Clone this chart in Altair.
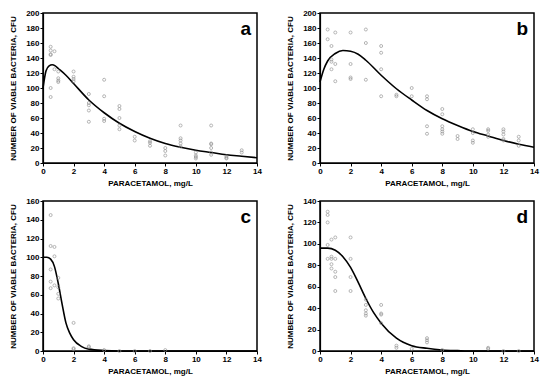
import altair as alt
import pandas as pd

# ---- panel a ----
a_pt_x = [0.5,0.5,0.5,0.5,0.5,0.5,0.75,0.75,1,1,1,1,2,2,2,2,3,3,3,3,3,4,4,4,4,
          5,5,5,5,5,6,6,7,7,7,8,8,8,9,9,9,9,9,10,10,10,10,11,11,11,11,11,11,12,12,12,13,13]
a_pt_y = [155,150,145,144,100,88,149,125,122,113,110,108,122,115,112,109,92,80,77,70,55,111,89,59,56,
          76,72,60,50,45,35,30,29,27,23,20,16,10,50,33,30,26,22,14,10,8,6,50,26,25,20,14,11,9,7,6,17,14]
a_cx = [0,0.2,0.4,0.6,0.8,1,1.5,2,3,4,5,6,7,8,9,10,11,12,13,14]
a_cy = [100,123,129.5,131,129.5,126,117,106,84,67,53,42,33,26,21,17,14,11,9,7]

# ---- panel b ----
b_pt_x = [0.5,0.5,0.75,0.75,0.75,0.75,1,1,1,2,2,2,2,3,3,3,4,4,4,4,5,5,6,6,
          7,7,7,7,8,8,8,8,8,8,9,9,10,10,10,10,11,11,11,11,12,12,12,12,12,13,13,13]
b_pt_y = [178,165,156,138,135,125,174,132,109,174,132,114,112,178,160,111,156,147,125,89,91,89,100,89,
          89,85,49,39,72,65,49,45,42,39,36,32,45,40,30,27,45,43,38,35,45,42,38,32,30,35,30,23]
b_cx = [0,0.25,0.5,1,1.5,2,2.5,3,4,5,6,7,8,9,10,11,12,13,14]
b_cy = [108,125,136,146,150,149,145,137,117,99,84,70,59,50,42,36,30,25,21]

# ---- panel c ----
c_pt_x = [0.5,0.5,0.5,0.5,0.5,0.75,0.75,0.75,1,1,1,1,2,2,2,3,3,4,5,6,7,8]
c_pt_y = [145,112,87,74,67,111,101,70,78,68,61,56,30,3,2,5,4,1,0,0,0,1]
c_cx = [0,0.25,0.5,0.75,1,1.25,1.5,1.75,2,2.5,3,4,5,8,14]
c_cy = [100,100,98,90,72,50,30,19,12,5,2,0.5,0,0,0]

# ---- panel d ----
d_pt_x = [0.5,0.5,0.5,0.5,0.5,0.75,0.75,0.75,0.75,0.75,1,1,1,1,1,2,2,2,2,
          3,3,3,3,3,4,4,4,4,5,5,6,7,7,7,8,11,11,12,13]
d_pt_y = [130,127,120,99,86,104,88,86,81,77,106,86,74,69,56,106,86,69,56,
          48,43,38,35,33,43,35,34,26,5,3,2,12,10,8,1,3,2,0,0]
d_cx = [0,0.5,1,1.5,2,2.5,3,3.5,4,5,6,7,8,9,10,14]
d_cy = [96,96,94,88,78,64,49,36,26,12,5,2.5,1,0.4,0,0]

letters = ["a", "b", "c", "d"]
ymax = [200, 200, 160, 140]

FONT = "Liberation Sans"
W, H = 214, 150


def panel(px, py, cx, cy, letter, ym):
    pts = pd.DataFrame({"x": px, "y": py})
    cur = pd.DataFrame({"x": cx, "y": cy})
    xs = alt.Scale(domain=[0, 14], nice=False, zero=False)
    ys = alt.Scale(domain=[0, ym], nice=False)
    xax = alt.Axis(tickCount=7, title="PARACETAMOL, mg/L", grid=False,
                   titlePadding=4, labelOverlap=False, labelFlush=False, labelSeparation=0)
    yax = alt.Axis(tickCount=ym // 20, title="NUMBER OF VIABLE BACTERIA, CFU",
                   grid=False, titlePadding=8, labelOverlap=False, labelFlush=False, labelSeparation=0)
    l = alt.Chart(cur).mark_line(color="black", strokeWidth=1.6, interpolate="monotone").encode(
        x=alt.X("x:Q", scale=xs, axis=xax), y=alt.Y("y:Q", scale=ys, axis=yax)
    )
    p = alt.Chart(pts).mark_point(shape="circle", filled=False, color="#8a8a8a",
                                  size=9, strokeWidth=0.9).encode(
        x=alt.X("x:Q", scale=xs, axis=xax),
        y=alt.Y("y:Q", scale=ys, axis=yax),
    )
    t = alt.Chart(pd.DataFrame({"t": [letter]})).mark_text(
        font=FONT, fontWeight="bold", fontSize=19, align="right", baseline="alphabetic"
    ).encode(text="t:N", x=alt.value(208), y=alt.value(22))
    return alt.layer(l, p, t).properties(width=W, height=H)


pa = panel(a_pt_x, a_pt_y, a_cx, a_cy, letters[0], ymax[0])
pb = panel(b_pt_x, b_pt_y, b_cx, b_cy, letters[1], ymax[1])
pc = panel(c_pt_x, c_pt_y, c_cx, c_cy, letters[2], ymax[2])
pd_ = panel(d_pt_x, d_pt_y, d_cx, d_cy, letters[3], ymax[3])

chart = alt.vconcat(
    alt.hconcat(pa, pb, spacing=22),
    alt.hconcat(pc, pd_, spacing=22),
    spacing=8,
).properties(padding=0, background="white").configure_view(
    stroke="black", strokeWidth=1.5
).configure_axis(
    labelFont=FONT, titleFont=FONT, labelFontWeight="bold", titleFontWeight="bold",
    labelFontSize=8, titleFontSize=8, labelColor="black", titleColor="black",
    domainColor="black", tickColor="black", tickSize=3, labelPadding=1,
    domainWidth=1.2, tickWidth=1, labelOverlap=False
)

chart.save("out.html", embed_options={"renderer": "svg", "actions": False})
